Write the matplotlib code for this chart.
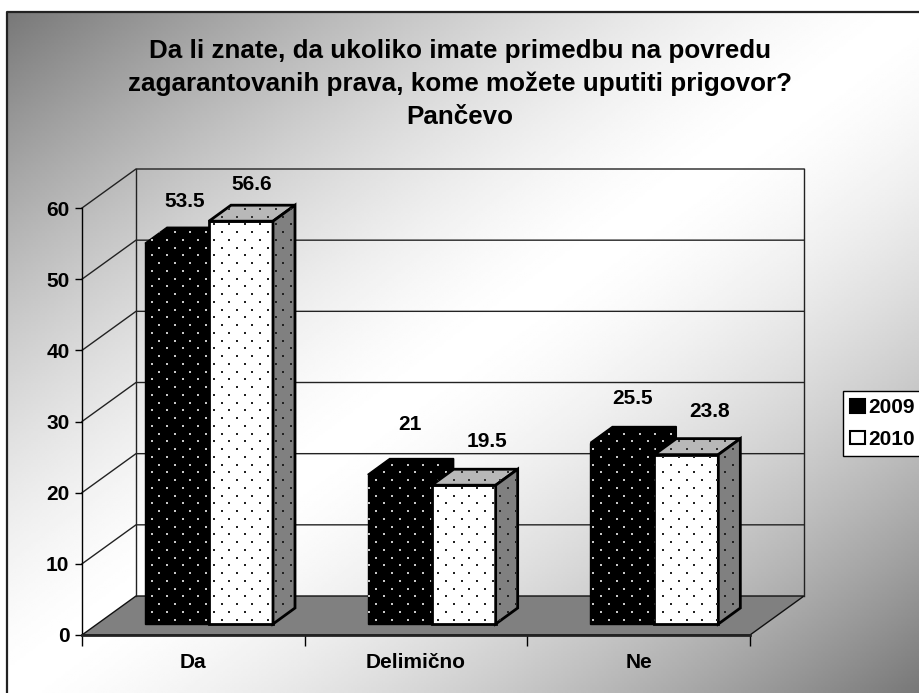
import numpy as np
import matplotlib
matplotlib.use("Agg")
import matplotlib.pyplot as plt
from matplotlib.patches import Patch, Polygon

plt.rcParams['font.family'] = ['Liberation Sans', 'DejaVu Sans']
plt.rcParams['font.weight'] = 'bold'

# podaci
categories = ['Da', 'Delimično', 'Ne']
years = ['2009', '2010']
v2009 = [53.5, 21, 25.5]
v2010 = [56.6, 19.5, 23.8]
title = ('Da li znate, da ukoliko imate primedbu na povredu\n'
         'zagarantovanih prava, kome možete uputiti prigovor?\nPančevo')
# pomeraj natpisa u odnosu na gornju ivicu stubica (px)
lab2009 = [(8, 42), (10, 50), (10, 44)]
lab2010 = [(11, 37), (23, 44), (23, 43)]

W, H = 920, 693
fig = plt.figure(figsize=(W / 100, H / 100), dpi=100, facecolor='white')

# pozadina sa dijagonalnim prelazom
bg = fig.add_axes([0, 0, 1, 1], zorder=0)
bg.axis('off')
u, v = np.meshgrid(np.linspace(0, 1, 400), np.linspace(0, 1, 300))
grad = 1 - 0.53 * np.abs(u + v - 1) ** 1.5
bg.imshow(grad, extent=(7, W, H, 12), cmap='gray', vmin=0, vmax=1, aspect='auto')
bg.set_xlim(0, W)
bg.set_ylim(H, 0)
bg.plot([7, 7, W], [H, 12, 12], color='#222222', lw=1.6, solid_capstyle='butt')

# glavne ose: x je kategorija, y je vrednost
L, R, B, T = 82, 750, 635, 208
ax = fig.add_axes([L / W, 1 - B / H, (R - L) / W, (B - T) / H], zorder=1)
ax.patch.set_visible(False)
ax.set_xlim(0, 3)
ax.set_ylim(0, 60)
px = 3 / (R - L)      # jedan piksel po x u jedinicama kategorije
py = 60 / (B - T)     # jedan piksel po y u jedinicama vrednosti

wall_dx, wall_dy = 54 * px, 39 * py
bar_dx, bar_dy = 22 * px, 16 * py
bar_w = 64 * px
start = 63 * px
base = 11 * py

for s in ['top', 'right']:
    ax.spines[s].set_visible(False)
ax.spines['left'].set_linewidth(1.0)
ax.spines['bottom'].set_linewidth(2.0)
ax.spines['bottom'].set_color('#222222')

ax.set_yticks(range(0, 70, 10))
ax.set_xticks([0, 1, 2, 3])
ax.set_xticklabels([])
ax.set_xticks([0.5, 1.5, 2.5], categories, minor=True)
ax.tick_params(axis='y', length=5, width=1, labelsize=15, pad=4)
ax.tick_params(axis='x', which='major', length=8, width=1)
ax.tick_params(axis='x', which='minor', length=0, labelsize=15, pad=13)

# pod
ax.add_patch(Polygon([(0, 0), (3, 0), (3 + wall_dx, wall_dy), (wall_dx, wall_dy)],
                     closed=True, fc='#808080', ec='#111111', lw=1, clip_on=False, zorder=1))
# zadnji zid i linije mreže
for t in range(10, 70, 10):
    ax.plot([0, wall_dx, 3 + wall_dx], [t, t + wall_dy, t + wall_dy],
            color='#222222', lw=1, clip_on=False, zorder=1)
ax.plot([wall_dx, wall_dx], [wall_dy, 60 + wall_dy], color='#222222', lw=1, clip_on=False, zorder=1)
ax.plot([3 + wall_dx, 3 + wall_dx], [wall_dy, 60 + wall_dy], color='#222222', lw=1, clip_on=False, zorder=1)


def dots(poly, color, z):
    # tackasta šara, isečena po obliku stranice
    pts = poly.get_xy()
    rows = np.arange(0, 90, 7.75 * py)
    xs, ys = [], []
    for i, yy in enumerate(rows):
        if yy < pts[:, 1].min() or yy > pts[:, 1].max():
            continue
        shift = 0 if i % 2 == 0 else 7.75 * px
        for xx in np.arange(shift, 3.3, 15.5 * px):
            if pts[:, 0].min() <= xx <= pts[:, 0].max():
                xs.append(xx)
                ys.append(yy)
    sc = ax.scatter(xs, ys, s=2.2, marker='s', c=color, linewidths=0, zorder=z, clip_on=True)
    sc.set_clip_path(poly)


def bar3d(x, val, front, top, side, dot_front, dot_top, dot_side, lw, z):
    y0, y1 = base, base + val
    x1 = x + bar_w
    rect = ax.bar(x, val, bar_w, bottom=base, align='edge', color=front,
                  edgecolor='black', linewidth=lw, zorder=z, clip_on=False)[0]
    f = Polygon(rect.get_corners(), closed=True, fc='none', ec='none', zorder=z)
    t = Polygon([(x, y1), (x1, y1), (x1 + bar_dx, y1 + bar_dy), (x + bar_dx, y1 + bar_dy)],
                closed=True, fc=top, ec='black', lw=lw, clip_on=False, zorder=z)
    s = Polygon([(x1, y0), (x1 + bar_dx, y0 + bar_dy), (x1 + bar_dx, y1 + bar_dy), (x1, y1)],
                closed=True, fc=side, ec='black', lw=lw, clip_on=False, zorder=z)
    for p in (f, t, s):
        ax.add_patch(p)
    dots(f, dot_front, z + 0.1)
    dots(t, dot_top, z + 0.1)
    dots(s, dot_side, z + 0.1)


for i in range(3):
    x0 = i + start
    bar3d(x0, v2009[i], 'black', 'black', 'black', '#c8c8c8', '#c8c8c8', '#c8c8c8', 1, 3 + i)
    bar3d(x0 + bar_w, v2010[i], 'white', '#b8b8b8', '#808080', '#222222', '#333333', '#222222', 2, 3.5 + i)
    ax.annotate(f'{v2009[i]:g}', (x0 + bar_w / 2, base + v2009[i]), xytext=lab2009[i], textcoords='offset pixels',
                ha='center', va='center', fontsize=15, annotation_clip=False, zorder=10)
    ax.annotate(f'{v2010[i]:g}', (x0 + 1.5 * bar_w, base + v2010[i]), xytext=lab2010[i], textcoords='offset pixels',
                ha='center', va='center', fontsize=15, annotation_clip=False, zorder=10)

fig.text(460 / W, 1 - 84 / H, title, ha='center', va='center', fontsize=18.7, linespacing=1.47, zorder=5)

handles = [Patch(fc='black', ec='black', lw=1.5), Patch(fc='white', ec='black', lw=1.5)]
leg = fig.legend(handles, years, loc='upper left', bbox_to_anchor=(843 / W, 1 - 391 / H, 90 / W, 0),
                 mode='expand', borderaxespad=0, fontsize=15, fancybox=False, framealpha=1, edgecolor='black',
                 handlelength=0.7, handleheight=0.62, handletextpad=0.15, labelspacing=0.6,
                 borderpad=0.36)
leg.get_frame().set_linewidth(1)
leg.set_zorder(6)

fig.savefig('out.png', dpi=100)
